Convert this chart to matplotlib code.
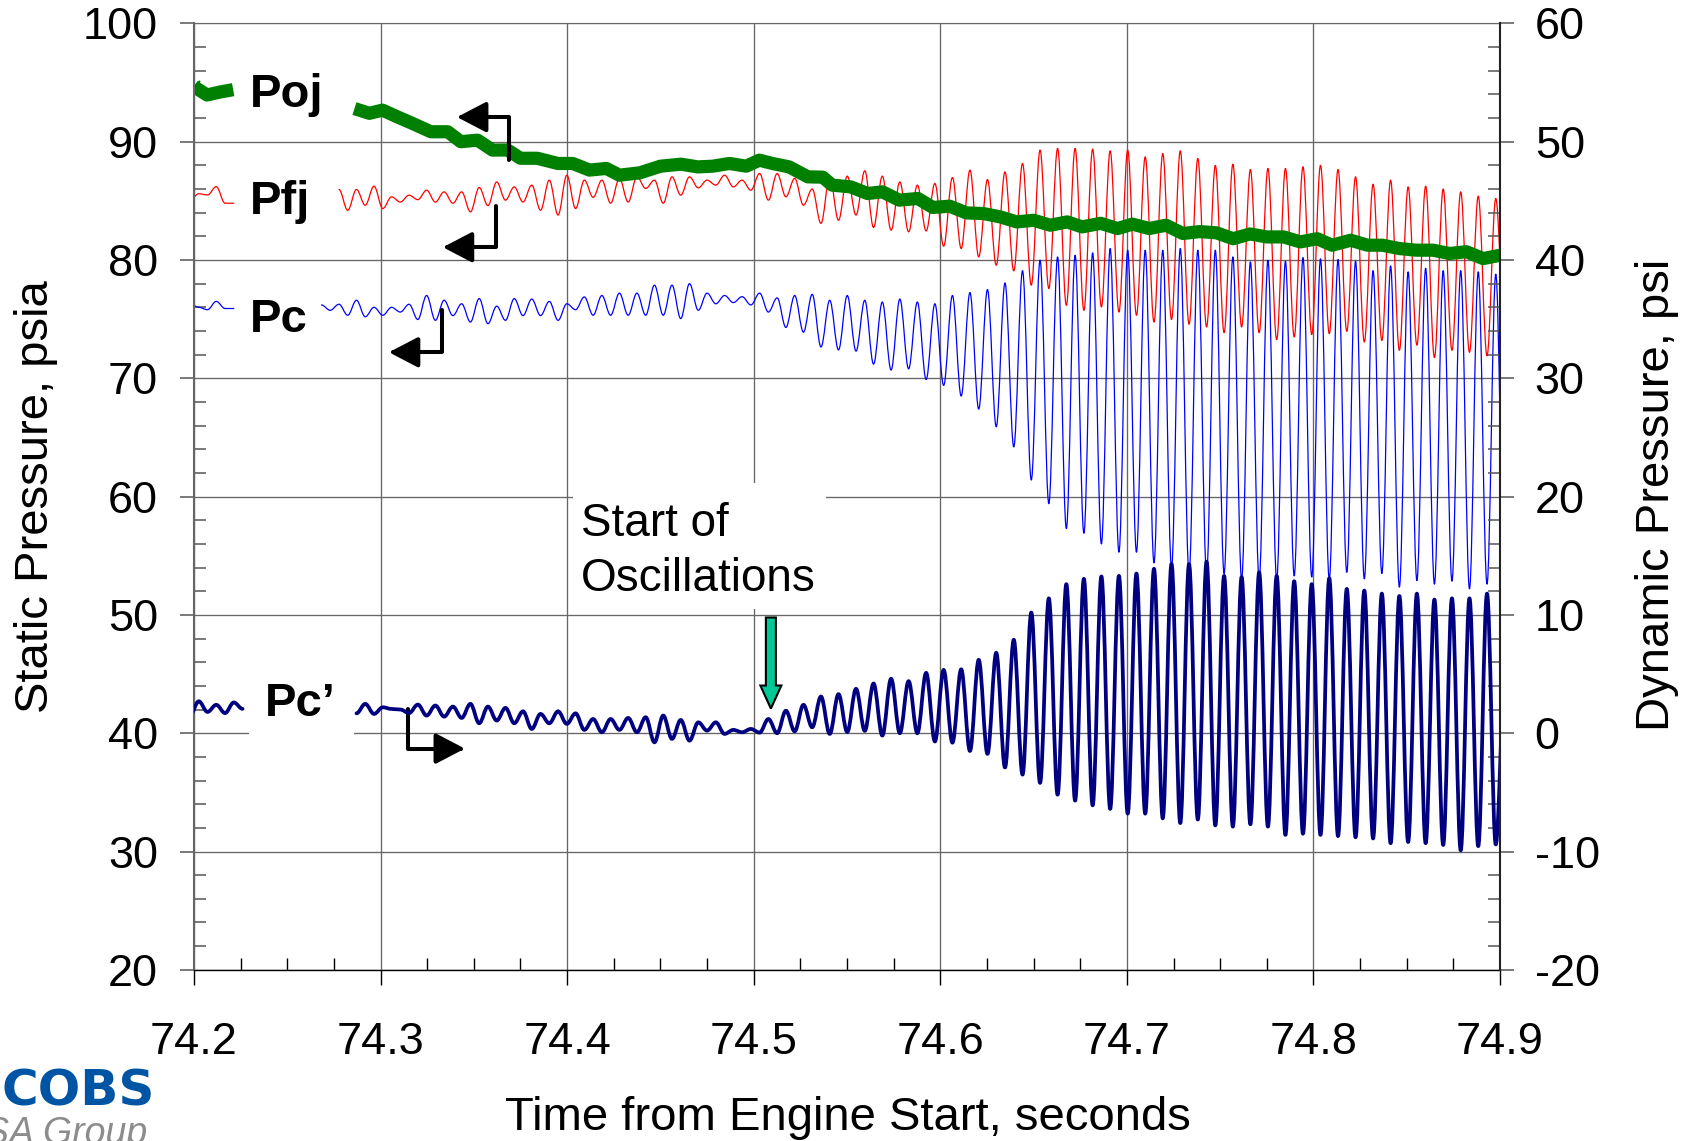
import numpy as np
import matplotlib
matplotlib.use('Agg')
import matplotlib.pyplot as plt
from matplotlib.patches import Rectangle, FancyArrow, ArrowStyle, PathPatch
from matplotlib.path import Path
from matplotlib.ticker import MultipleLocator

plt.rcParams['font.family'] = ['Liberation Sans', 'DejaVu Sans']
plt.rcParams['axes.unicode_minus'] = False

# the oscillating traces are digitised at every crest / trough of the ~106 Hz mode
T_REF = 74.51726        # s, a Pc' crest
HALF_CYCLE = 0.0046972  # s

x_ticks = [74.2, 74.3, 74.4, 74.5, 74.6, 74.7, 74.8, 74.9]
static_ticks = [20, 30, 40, 50, 60, 70, 80, 90, 100]
dynamic_ticks = [-20, -10, 0, 10, 20, 30, 40, 50, 60]

# Poj (psia), thick green trace
poj_t_a = [74.200, 74.207, 74.214, 74.221]
poj_a = [94.65, 93.95, 94.2, 94.4]
poj_t = [74.286, 74.294, 74.301, 74.309, 74.317, 74.327, 74.336, 74.343, 74.352, 74.360,
         74.368, 74.375, 74.384, 74.395, 74.403, 74.412, 74.421, 74.428, 74.439, 74.450,
         74.461, 74.470, 74.478, 74.487, 74.496, 74.503, 74.510, 74.519, 74.529, 74.537,
         74.542, 74.552, 74.561, 74.569, 74.578, 74.588, 74.596, 74.605, 74.614, 74.623,
         74.632, 74.641, 74.650, 74.659, 74.668, 74.676, 74.686, 74.695, 74.703, 74.712,
         74.721, 74.730, 74.739, 74.748, 74.757, 74.766, 74.775, 74.784, 74.793, 74.802,
         74.810, 74.820, 74.829, 74.837, 74.846, 74.855, 74.864, 74.873, 74.882, 74.891,
         74.900]
poj = [92.8, 92.4, 92.67, 92.1, 91.55, 90.84, 90.84, 90.0, 90.13, 89.29,
       89.3, 88.6, 88.6, 88.16, 88.16, 87.6, 87.74, 87.17, 87.37, 87.93,
       88.1, 87.87, 87.93, 88.16, 87.93, 88.44, 88.16, 87.87, 87.03, 87.0,
       86.33, 86.18, 85.62, 85.76, 85.06, 85.2, 84.44, 84.55, 83.98, 83.93,
       83.65, 83.22, 83.36, 82.94, 83.22, 82.8, 83.1, 82.66, 83.03, 82.66,
       82.94, 82.24, 82.4, 82.3, 81.8, 82.2, 81.95, 81.95, 81.53, 81.8,
       81.25, 81.67, 81.25, 81.25, 80.97, 80.83, 80.83, 80.55, 80.7, 80.12,
       80.4]

# Pfj (psia): index of first half cycle, then values
pfj_k_a = -68
pfj_a = [85.06, 85.6, 85.5, 86.2, 84.8, 84.8]
pfj_k = -51
pfj = [85.96, 84.2, 85.96, 84.63, 86.24, 84.35, 85.34, 84.9, 85.48, 85.1,
       85.9, 84.9, 85.76, 84.8, 85.76, 84.07, 86.13, 84.6, 86.6, 85.06,
       86.18, 84.9, 86.33, 84.2, 86.75, 83.8, 87.17, 84.35, 86.75, 85.3,
       86.75, 84.8, 86.9, 84.9, 87.03, 86.05, 86.75, 84.8, 87.03, 85.48,
       87.03, 86.1, 86.75, 86.33, 87.17, 86.18, 86.75, 85.9, 87.31, 85.06,
       87.31, 85.34, 86.9, 84.63, 86.0, 83.1,
       87.03, 83.36, 87.09, 83.8, 87.54, 82.75, 87.09, 82.52, 86.6, 82.38,
       86.33, 82.46, 86.47, 81.17, 86.97, 80.97, 87.6, 80.26, 86.8, 79.56,
       87.45, 79.08, 88.16, 77.87, 89.29, 77.59, 89.43, 76.17, 89.43, 75.75,
       89.37, 76.03, 89.23, 75.6, 89.29, 75.33, 88.72, 74.76, 89.0, 74.97,
       89.23, 74.57, 88.58, 74.34, 88.0, 73.86, 88.1, 74.34, 87.65, 73.86,
       87.74, 73.27, 87.74, 73.5, 87.88, 73.7, 88.0, 73.78, 87.65, 73.97,
       87.03, 73.07, 86.4, 73.2, 86.75, 72.37, 86.18, 72.8, 86.24, 71.75,
       86.0, 72.37, 85.76, 72.2, 85.4, 71.9, 85.2, 74.0]

# Pc (psia)
pc_k_a = -68
pc_a = [76.3, 76.0, 75.8, 76.5, 75.9, 75.9]
pc_k = -53
pc = [76.2, 75.75, 76.26, 75.33, 76.6, 75.2, 76.0, 75.33, 76.0, 75.6,
      76.26, 74.97, 77.0, 74.9, 76.6, 75.3, 76.3, 74.76, 76.74, 74.62,
      76.1, 74.9, 76.74, 75.3, 76.7, 75.3, 76.5, 74.9, 76.3, 75.8,
      76.88, 75.33, 77.0, 75.33, 77.2, 75.33, 77.2, 75.33, 77.87, 75.33,
      77.87, 75.05, 78.0, 75.75, 77.2, 76.3, 77.0, 76.4, 76.9, 76.2,
      77.2, 75.6, 76.8,
      74.3, 77.0, 73.9, 77.1, 72.65, 76.6, 72.4, 77.0, 72.3, 76.6,
      71.2, 76.45, 70.7, 76.7, 70.8, 76.45, 69.9, 76.3, 69.4, 77.0,
      68.5, 77.25, 67.4, 77.5, 65.9, 78.06, 64.2, 79.1, 61.4, 79.98,
      59.4, 80.26, 57.3, 80.4, 56.9, 80.6, 56.0, 80.97, 55.3, 80.83,
      55.3, 80.83, 54.4, 80.83, 54.0, 80.97, 53.5, 80.83, 53.5, 80.83,
      53.5, 80.26, 53.0, 79.84, 53.0, 79.98, 53.0, 79.9, 53.3, 80.2,
      53.2, 80.1, 53.0, 80.04, 53.6, 79.9, 53.05, 79.1, 53.5, 79.5,
      52.35, 79.0, 52.9, 79.3, 52.6, 79.1, 52.85, 79.1, 52.2, 79.0,
      52.6, 78.8, 53.0]

# Pc' (psi, right axis)
pcd_k_a = -68
pcd_a = [1.5, 2.7, 1.8, 2.4, 1.7, 2.6, 2.06]
pcd_k = -49
pcd = [1.68, 2.48, 1.63, 2.19, 2.05, 2.0, 1.7, 2.42, 1.49, 2.34,
       1.4, 2.25, 1.29, 2.48, 0.84, 2.25, 1.07, 2.14, 0.84, 1.85,
       0.36, 1.63, 0.84, 1.85, 0.79, 1.68, 0.28, 1.2, 0.08, 1.2,
       0.28, 1.29, 0.08, 1.35, -0.77, 1.49, -0.48, 1.12, -0.63, 0.92,
       0.22, 0.92, -0.06, 0.28, 0.08, 0.36, 0.05, 1.2, 0.0,
       1.9, 0.16, 2.4, 0.5, 3.1, -0.06, 3.3, 0.1, 3.75, 0.2,
       4.2, -0.2, 4.6, 0.0, 4.4, 0.0, 5.1, -0.7, 5.35, -0.8,
       5.4, -1.5, 6.2, -1.75, 6.8, -2.9, 7.9, -3.5, 10.2, -4.2,
       11.4, -5.2, 12.6, -5.7, 13.05, -6.1, 13.25, -6.4, 13.3, -6.8,
       13.5, -6.8, 13.9, -7.2, 14.3, -7.6, 14.3, -7.3, 14.5, -7.8,
       13.3, -7.9, 13.2, -7.7, 13.6, -7.9, 13.3, -8.6, 12.85, -8.5,
       12.6, -8.6, 13.1, -8.7, 12.2, -8.8, 12.06, -8.9, 11.8, -9.3,
       11.6, -9.2, 11.8, -9.3, 11.3, -9.45, 11.4, -9.9, 11.4, -9.55,
       11.8, -9.4, 4.0]


def trace_times(k0, vals):
    return T_REF + HALF_CYCLE * (k0 + np.arange(len(vals)))


def wave(a, k0, vals, **kw):
    # crest/trough samples joined by Bezier arcs with flat tangents at each sample
    t = trace_times(k0, vals)
    verts = [(t[0], vals[0])]
    codes = [Path.MOVETO]
    for i in range(len(t) - 1):
        dt = t[i + 1] - t[i]
        verts += [(t[i] + 0.36 * dt, vals[i]), (t[i + 1] - 0.36 * dt, vals[i + 1]),
                  (t[i + 1], vals[i + 1])]
        codes += [Path.CURVE4] * 3
    a.add_patch(PathPatch(Path(verts, codes), fill=False, capstyle='round',
                          joinstyle='round', **kw))


fig = plt.figure(figsize=(16.94, 11.41), dpi=100)
ax = fig.add_axes([0.11452, 0.15004, 0.77096, 0.82945])
ax2 = ax.twinx()

# static pressures, left axis
wave(ax, pc_k_a, pc_a, edgecolor='#0000FF', lw=0.9, zorder=2)
wave(ax, pc_k, pc, edgecolor='#0000FF', lw=0.9, zorder=2)
wave(ax, pfj_k_a, pfj_a, edgecolor='#FF0000', lw=0.9, zorder=2.1)
wave(ax, pfj_k, pfj, edgecolor='#FF0000', lw=0.9, zorder=2.1)
ax.plot(poj_t_a, poj_a, color='#008000', lw=9.5, solid_capstyle='butt', zorder=2.2,
        marker='x', markevery=[0], ms=9, mew=1.6)
ax.plot(poj_t, poj, color='#008000', lw=9.5, solid_capstyle='butt', zorder=2.2)

# dynamic chamber pressure, right axis
wave(ax2, pcd_k_a, pcd_a, edgecolor='#000080', lw=2.7, zorder=2)
wave(ax2, pcd_k, pcd, edgecolor='#000080', lw=2.7, zorder=2)

ax.set_xlim(74.2, 74.9)
ax.set_ylim(20, 100)
ax2.set_ylim(-20, 60)
ax.set_xticks(x_ticks)
ax.set_xticklabels([f'{v:.1f}' for v in x_ticks])
ax.set_yticks(static_ticks)
ax2.set_yticks(dynamic_ticks)
ax.xaxis.set_minor_locator(MultipleLocator(0.025))
ax.yaxis.set_minor_locator(MultipleLocator(2))
ax2.yaxis.set_minor_locator(MultipleLocator(2))
ax.grid(True, which='major', color='#666666', lw=0.95)

ax.tick_params(axis='x', which='major', direction='out', length=10.8, width=1,
               labelsize=32.5, pad=27)
ax.tick_params(axis='x', which='minor', direction='in', length=8.6, width=1)
for a, p in [(ax, 16), (ax2, 15)]:
    a.tick_params(axis='y', which='major', direction='out', length=10, width=1.1,
                  color='#555555', labelsize=32.5, pad=p)
    a.tick_params(axis='y', which='minor', direction='in', length=8.6, width=1.1,
                  color='#555555')

ax.spines['left'].set_color('#666666')
ax.spines['left'].set_linewidth(1.5)
ax.spines['top'].set_color('#666666')
ax.spines['bottom'].set_linewidth(1)
for s in ['left', 'top', 'bottom']:
    ax2.spines[s].set_visible(False)
ax.spines['right'].set_visible(False)
ax2.spines['right'].set_color('#222222')
ax2.spines['right'].set_linewidth(1.5)

# white label boxes over the grid
ax.add_patch(Rectangle((74.2295, 38.5), 0.0562, 7.0, facecolor='white',
                       edgecolor='none', zorder=1.8))
ax.add_patch(Rectangle((74.4031, 50.54), 0.1355, 10.58, facecolor='white',
                       edgecolor='none', zorder=1.8))

lab = dict(fontsize=34, fontweight='bold', ha='left', va='baseline', zorder=5)
ax.text(74.2300, 92.95, 'Poj', **lab)
ax.text(74.2300, 83.93, 'Pfj', **lab)
ax.text(74.2300, 73.92, 'Pc', **lab)
ax.text(74.2380, 41.49, 'Pc\u2019', **lab)
ax.text(74.4074, 56.63, 'Start of', fontsize=33, ha='left', va='baseline', zorder=5)
ax.text(74.4074, 51.98, 'Oscillations', fontsize=33, ha='left', va='baseline', zorder=5)


def bent_arrow(start, tip):
    ax.annotate('', xy=tip, xytext=start, xycoords='data', textcoords='data',
                arrowprops=dict(arrowstyle=ArrowStyle('-|>', head_length=18, head_width=9.4),
                                mutation_scale=1, lw=2.9, color='black',
                                shrinkA=0, shrinkB=0,
                                connectionstyle='angle,angleA=90,angleB=0,rad=0'),
                zorder=6)


bent_arrow((74.3688, 88.44), (74.3410, 92.08))
bent_arrow((74.3618, 84.55), (74.3334, 81.08))
bent_arrow((74.3329, 75.75), (74.3045, 72.20))
bent_arrow((74.3147, 42.08), (74.3452, 38.70))

ax.add_patch(FancyArrow(74.5092, 49.78, 0, -7.7, width=0.00536, head_width=0.01125,
                        head_length=1.95, length_includes_head=True,
                        facecolor='#00C896', edgecolor='black', lw=1.5, zorder=6))

fig.text(0.0215, 0.5644, 'Static Pressure, psia', fontsize=34, rotation=90,
         ha='center', va='center')
fig.text(0.978, 0.5662, 'Dynamic Pressure, psi', fontsize=34, rotation=90,
         ha='center', va='center')
fig.text(0.5004, 0.020, 'Time from Engine Start, seconds', fontsize=34,
         ha='center', va='center')

# corner logo
fig.text(0.0915, 0.0307, 'COBS', fontsize=36, fontweight='bold', color='#0054A4',
         family='DejaVu Sans', ha='right', va='baseline')
fig.text(0.0868, -0.0026, 'SA Group', fontsize=27, style='italic', color='#8C8C8C',
         ha='right', va='baseline')

fig.savefig('out.png', dpi=100)
